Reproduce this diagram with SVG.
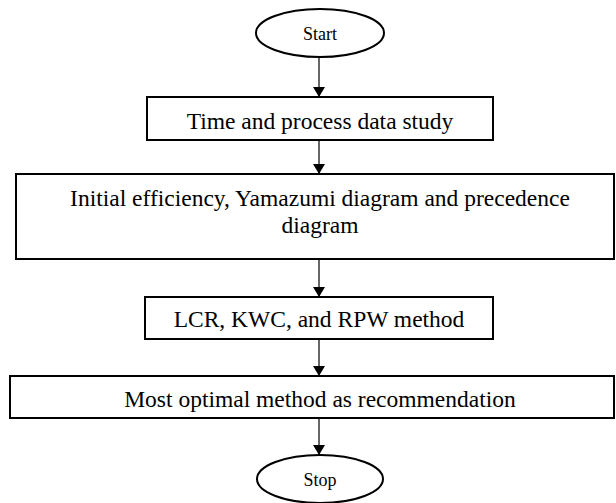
<svg xmlns="http://www.w3.org/2000/svg" width="616" height="503" viewBox="0 0 616 503">
<style>
.box{fill:#fff;stroke:#000;stroke-width:2}
.t{font-family:"Liberation Serif","Times New Roman",serif;font-size:23.5px;fill:#000;text-anchor:middle}
.s{font-family:"Liberation Serif","Times New Roman",serif;font-size:18px;fill:#000;text-anchor:middle}
.c{stroke:#000;stroke-width:1.2;fill:none;marker-end:url(#ah)}
</style>
<defs>
<marker id="ah" markerWidth="10" markerHeight="12" refX="10" refY="6" orient="auto" markerUnits="userSpaceOnUse">
<path d="M0,0 L10,6 L0,12 Z" fill="#000"/>
</marker>
</defs>
<rect width="616" height="503" fill="#fff"/>
<g id="connectors">
<line class="c" x1="319" y1="57" x2="319" y2="97"/>
<line class="c" x1="319" y1="140" x2="319" y2="174"/>
<line class="c" x1="319" y1="259" x2="319" y2="297"/>
<line class="c" x1="319" y1="339" x2="319" y2="376"/>
<line class="c" x1="319" y1="418" x2="319" y2="455"/>
</g>
<g id="start">
<ellipse class="box" cx="320" cy="33" rx="64" ry="24"/>
<text class="s" x="320" y="40">Start</text>
</g>
<g id="time">
<rect class="box" x="147" y="97" width="346" height="43"/>
<text class="t" x="320" y="129">Time and process data study</text>
</g>
<g id="initial">
<rect class="box" x="16" y="174" width="598" height="85"/>
<text class="t" x="320" y="206">Initial efficiency, Yamazumi diagram and precedence</text>
<text class="t" x="320" y="233">diagram</text>
</g>
<g id="methods">
<rect class="box" x="145" y="297" width="348" height="42"/>
<text class="t" x="319" y="327">LCR, KWC, and RPW method</text>
</g>
<g id="optimal">
<rect class="box" x="10" y="376" width="604" height="42"/>
<text class="t" x="320" y="407">Most optimal method as recommendation</text>
</g>
<g id="stop">
<ellipse class="box" cx="320" cy="479" rx="63" ry="24"/>
<text class="s" x="320" y="486">Stop</text>
</g>
</svg>
